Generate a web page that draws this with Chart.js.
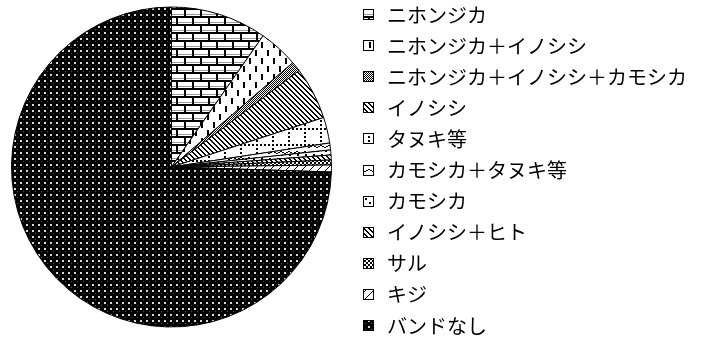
<!DOCTYPE html>
<html>
<head>
<meta charset="utf-8">
<script src="https://cdn.jsdelivr.net/npm/chart.js@4/dist/chart.umd.min.js"></script>
<style>
html,body{margin:0;padding:0;background:#fff;}
#wrap{width:709px;height:340px;}
</style>
</head>
<body>
<div id="wrap"><canvas id="c" width="709" height="340"></canvas></div>
<script>
// Categories and values (percent of total)
const categories = ['ニホンジカ','ニホンジカ＋イノシシ','ニホンジカ＋イノシシ＋カモシカ','イノシシ','タヌキ等','カモシカ＋タヌキ等','カモシカ','イノシシ＋ヒト','サル','キジ','バンドなし'];
const shares = [9.7, 4.0, 1.0, 5.3, 2.6, 0.7, 0.5, 0.5, 0.5, 0.7, 74.5];

function tile(w, h, bg, draw) {
  const c = document.createElement('canvas');
  c.width = w; c.height = h;
  const x = c.getContext('2d');
  x.fillStyle = bg; x.fillRect(0, 0, w, h);
  draw(x, w, h);
  return x.createPattern(c, 'repeat');
}
function px(x, a, b, w, h, col) { x.fillStyle = col || '#000'; x.fillRect(a, b, w || 1, h || 1); }
function diag(x, p, k) { for (let i = 0; i < p; i++) for (let j = 0; j < p; j++) if (((i - j + 2 * p) % p) < k) px(x, i, j); }

const patterns = [
  // brick
  tile(16, 16, '#fff', (x) => {
    px(x, 0, 0, 16, 2); px(x, 0, 8, 16, 2);
    px(x, 0, 0, 2, 8); px(x, 8, 8, 2, 8);
    px(x, 2, 6, 14, 1, '#999'); px(x, 0, 14, 8, 1, '#999'); px(x, 10, 14, 6, 1, '#999');
  }),
  // sparse vertical dashes
  tile(12, 16, '#fff', (x) => { px(x, 3, 2, 2, 6); px(x, 9, 10, 2, 6); }),
  // fine 50% gray
  tile(2, 2, '#fff', (x) => { px(x, 0, 0); px(x, 1, 1); }),
  // diagonal stripes
  tile(5, 5, '#fff', (x) => diag(x, 5, 2)),
  // dotted grid
  tile(16, 16, '#fff', (x) => { for (let i = 0; i < 16; i += 4) { px(x, i, 0, 2, 2); px(x, 0, i, 2, 2); } }),
  // wave
  tile(8, 6, '#fff', (x) => { px(x, 0, 1, 2, 1); px(x, 2, 2, 2, 1); px(x, 4, 3, 2, 1); px(x, 6, 2, 2, 1); }),
  // sparse dots
  tile(8, 8, '#fff', (x) => { px(x, 1, 2, 2, 2); px(x, 5, 6, 2, 2); }),
  // diagonal stripes 2
  tile(5, 5, '#fff', (x) => diag(x, 5, 2)),
  // checkerboard
  tile(4, 4, '#fff', (x) => { px(x, 0, 0, 2, 2); px(x, 2, 2, 2, 2); }),
  // thin diagonal
  tile(8, 8, '#fff', (x) => { for (let i = 0; i < 8; i++) px(x, i, 7 - i); }),
  // black with white dots
  tile(6, 6, '#000', (x) => { px(x, 2, 2, 2, 2, '#d8d8d8'); px(x, 5, 5, 1, 1, '#555'); })
];

const legendPlugin = {
  id: 'sideLegend',
  afterDraw(chart) {
    const ctx = chart.ctx;
    const ds = chart.data.datasets[0];
    ctx.save();
    ctx.font = '20px "Noto Sans CJK JP"';
    ctx.textBaseline = 'middle';
    chart.data.labels.forEach((lab, i) => {
      const cy = 14 + i * 31.1;
      ctx.fillStyle = ds.backgroundColor[i];
      ctx.fillRect(363.5, Math.round(cy) - 4.5, 10, 10);
      ctx.strokeStyle = '#000'; ctx.lineWidth = 1;
      ctx.strokeRect(363.5, Math.round(cy) - 4.5, 10, 10);
      ctx.fillStyle = '#000';
      ctx.fillText(lab, 387, cy + 1);
    });
    ctx.restore();
  }
};

new Chart(document.getElementById('c'), {
  type: 'pie',
  data: {
    labels: categories,
    datasets: [{
      data: shares,
      backgroundColor: patterns,
      borderColor: '#000',
      borderWidth: 1
    }]
  },
  options: {
    responsive: false,
    devicePixelRatio: 1,
    animation: false,
    layout: { padding: { left: 11, top: 6, right: 377, bottom: 12 } },
    plugins: { legend: { display: false }, tooltip: { enabled: false } }
  },
  plugins: [legendPlugin]
});
</script>
</body>
</html>
